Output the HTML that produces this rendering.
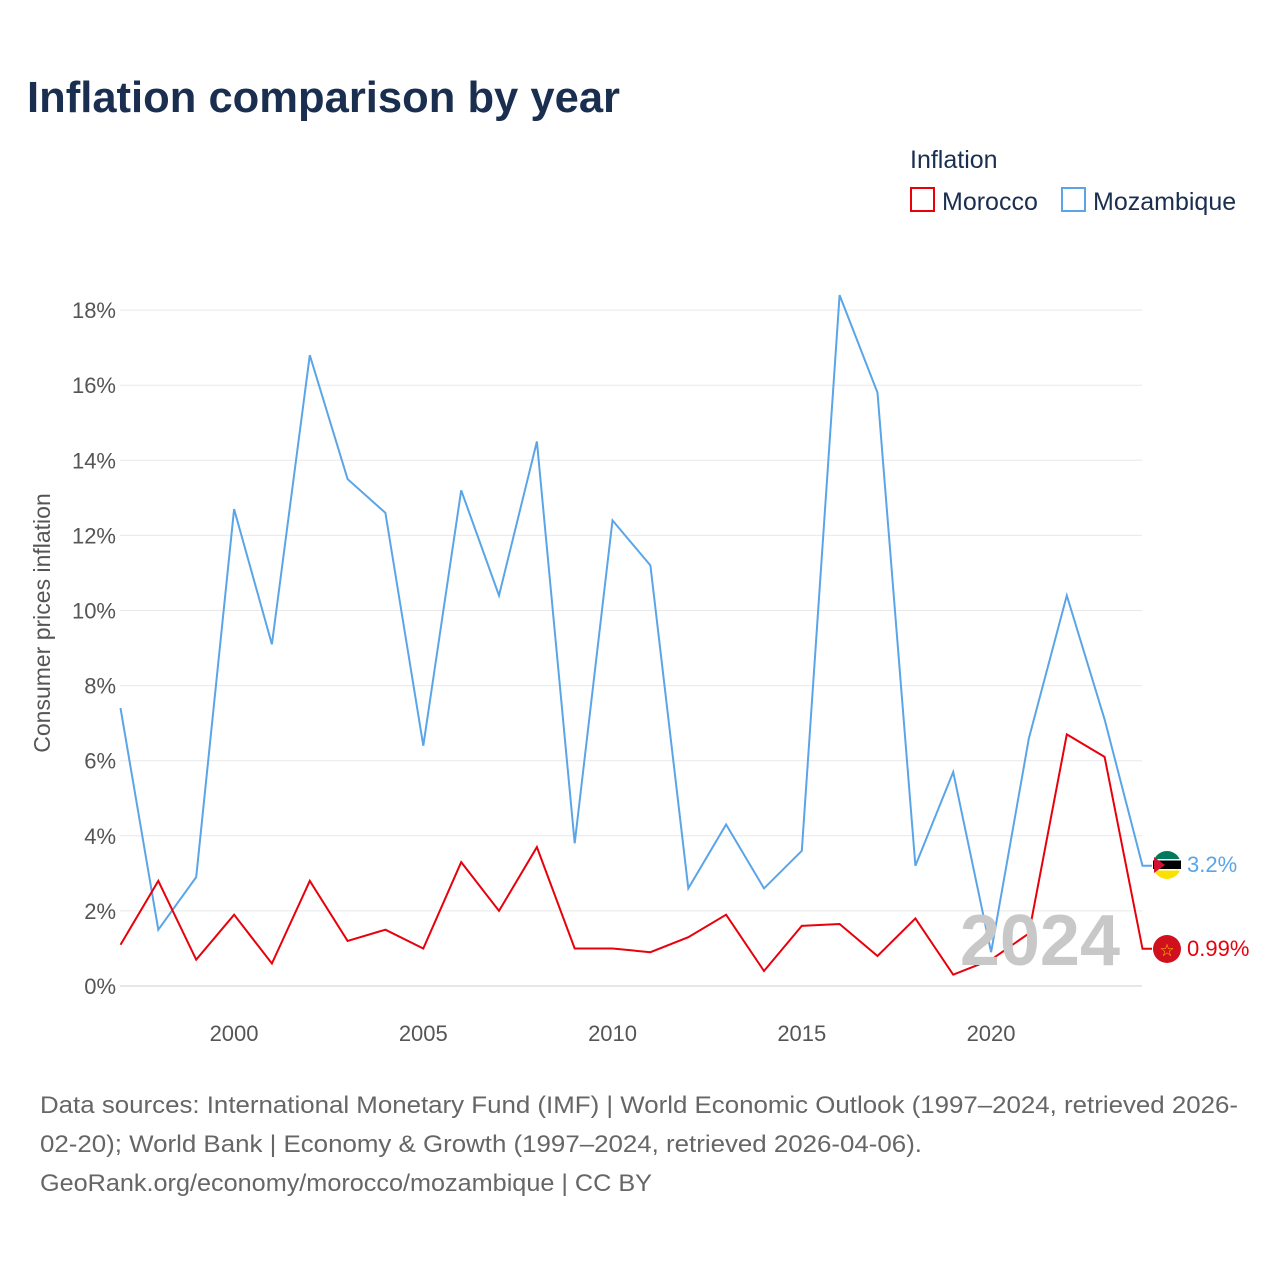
<!DOCTYPE html>
<html><head><meta charset="utf-8">
<style>
html,body{margin:0;padding:0;background:#fff;}
body{width:1280px;height:1280px;position:relative;overflow:hidden;font-family:"Liberation Sans",sans-serif;}
svg text{font-family:"Liberation Sans",sans-serif;}
</style></head>
<body>
<svg id="chart" width="1280" height="1280" xmlns="http://www.w3.org/2000/svg">
<text x="27" y="112" font-size="44" font-weight="bold" fill="#1a2e50" textLength="593" lengthAdjust="spacingAndGlyphs">Inflation comparison by year</text>
<text x="910" y="168" font-size="25" fill="#1a2e50">Inflation</text>
<g>
<rect x="911" y="188" width="23" height="23" fill="#fff" stroke="#e8000b" stroke-width="2"/>
<text x="942" y="210" font-size="25" fill="#1a2e50">Morocco</text></g>
<g>
<rect x="1062" y="188" width="23" height="23" fill="#fff" stroke="#5aa5e8" stroke-width="2"/>
<text x="1093" y="210" font-size="25" fill="#1a2e50">Mozambique</text></g>
<text transform="translate(50,623) rotate(-90)" text-anchor="middle" font-size="23" fill="#555">Consumer prices inflation</text>
<g id="grid"></g><g id="yt"></g><g id="xt"></g><g id="series"></g>
<text x="1120" y="965" text-anchor="end" font-size="72" font-weight="bold" fill="#c8c8c8">2024</text>
<g>
<circle cx="1167" cy="865" r="14" fill="#fce100"/>
<path d="M1153 865 A14 14 0 0 1 1181 865 Z" fill="#007a5e"/>
<rect x="1153" y="860" width="28" height="9" fill="#000"/>
<rect x="1153" y="859" width="28" height="1.5" fill="#fff"/><rect x="1153" y="869" width="28" height="1.5" fill="#fff"/>
<path d="M1154 857 L1165 865 L1154 873 Z" fill="#d21034"/>
</g>
<g>
<circle cx="1167" cy="949" r="14" fill="#d0101c"/>
<text x="1167" y="956" text-anchor="middle" font-size="17" fill="#f5c400">☆</text>
</g>
<text x="1187" y="872" font-size="22" fill="#5aa5e8">3.2%</text>
<text x="1187" y="956" font-size="22" fill="#e8000b">0.99%</text>
<g font-size="24" fill="#666">
<text x="40" y="1113" textLength="1198" lengthAdjust="spacingAndGlyphs">Data sources: International Monetary Fund (IMF) | World Economic Outlook (1997–2024, retrieved 2026-</text>
<text x="40" y="1152" textLength="882" lengthAdjust="spacingAndGlyphs">02-20); World Bank | Economy &amp; Growth (1997–2024, retrieved 2026-04-06).</text>
<text x="40" y="1191" textLength="612" lengthAdjust="spacingAndGlyphs">GeoRank.org/economy/morocco/mozambique | CC BY</text>
</g>
</svg>
<script>
const years=[1997,1998,1999,2000,2001,2002,2003,2004,2005,2006,2007,2008,2009,2010,2011,2012,2013,2014,2015,2016,2017,2018,2019,2020,2021,2022,2023,2024];
const mozambique=[7.4,1.5,2.9,12.7,9.1,16.8,13.5,12.6,6.4,13.2,10.4,14.5,3.8,12.4,11.2,2.6,4.3,2.6,3.6,18.4,15.8,3.2,5.7,0.9,6.6,10.4,7.1,3.2];
const morocco=[1.1,2.8,0.7,1.9,0.6,2.8,1.2,1.5,1.0,3.3,2.0,3.7,1.0,1.0,0.9,1.3,1.9,0.4,1.6,1.65,0.8,1.8,0.3,0.7,1.4,6.7,6.1,0.99];
const yTicks=[0,2,4,6,8,10,12,14,16,18];
const xTicks=[2000,2005,2010,2015,2020];
const NS="http://www.w3.org/2000/svg";
const x=v=>120.5+(v-1997)*37.85;
const y=v=>986-v*37.55;
const grid=document.getElementById('grid'),yt=document.getElementById('yt'),xt=document.getElementById('xt'),ser=document.getElementById('series');
yTicks.forEach(t=>{
 const l=document.createElementNS(NS,'line');
 
 
 l.setAttribute('x1',120);l.setAttribute('x2',1142);l.setAttribute('y1',y(t));l.setAttribute('y2',y(t));
 l.setAttribute('stroke',t===0?'#ccc':'#e8e8e8');l.setAttribute('stroke-width',1);
 grid.appendChild(l);
 const tx=document.createElementNS(NS,'text');
 
 
 tx.setAttribute('x',116);tx.setAttribute('y',y(t)+8);tx.setAttribute('text-anchor','end');
 tx.setAttribute('font-size',22);tx.setAttribute('fill','#555');tx.textContent=t+'%';
 yt.appendChild(tx);
});
xTicks.forEach(t=>{
 const tx=document.createElementNS(NS,'text');
 
 
 tx.setAttribute('x',x(t));tx.setAttribute('y',1041);tx.setAttribute('text-anchor','middle');
 tx.setAttribute('font-size',22);tx.setAttribute('fill','#555');tx.textContent=t;
 xt.appendChild(tx);
});
function line(vals,color,name){
 let d=vals.map((v,i)=>(i?'L':'M')+x(years[i]).toFixed(1)+' '+y(v).toFixed(1)).join(' ');
 d+=' L1152 '+y(vals[vals.length-1]).toFixed(1);
 const p=document.createElementNS(NS,'path');
 
 
 p.setAttribute('d',d);p.setAttribute('fill','none');p.setAttribute('stroke',color);p.setAttribute('stroke-width',2);
 ser.appendChild(p);
}
line(mozambique,'#5aa5e8','mozambique-line');
line(morocco,'#e8000b','morocco-line');
</script>
</body></html>
